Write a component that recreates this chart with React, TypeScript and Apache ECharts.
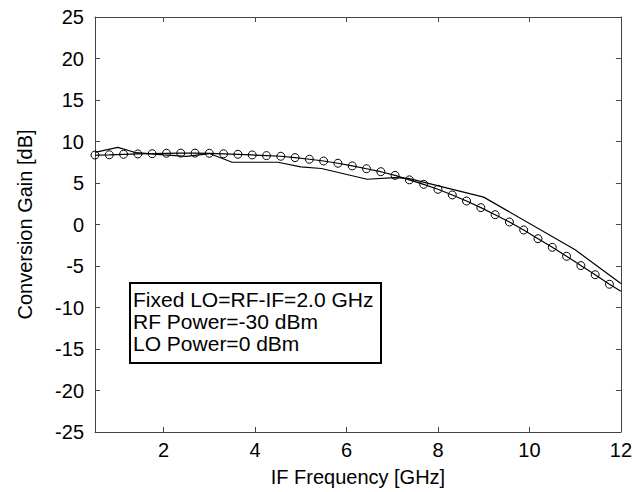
import React, { useEffect, useRef } from "react";
import * as echarts from "echarts";

const xTicks = [2, 4, 6, 8, 10, 12];
const yMin = -25;
const yMax = 25;

const measuredX = [0.5, 1.0, 1.4, 2.0, 2.5, 3.0, 3.5, 4.5, 5.0, 5.45, 6.45, 7.05, 7.35, 9.0, 11.0, 12.0];
const measuredY = [8.7, 9.3, 8.65, 8.4, 8.2, 8.55, 7.5, 7.5, 6.95, 6.75, 5.45, 5.65, 5.55, 3.3, -3.05, -7.1];

const simX = [
  0.5, 0.8125, 1.125, 1.4375, 1.75, 2.0625, 2.375, 2.6875, 3.0, 3.3125, 3.625, 3.9375,
  4.25, 4.5625, 4.875, 5.1875, 5.5, 5.8125, 6.125, 6.4375, 6.75, 7.0625, 7.375, 7.6875,
  8.0, 8.3125, 8.625, 8.9375, 9.25, 9.5625, 9.875, 10.1875, 10.5, 10.8125, 11.125, 11.4375,
  11.75, 12.0,
];
const simY = [
  8.37, 8.4, 8.46, 8.5, 8.53, 8.58, 8.6, 8.6, 8.58, 8.52, 8.46, 8.38, 8.3, 8.22, 8.06,
  7.86, 7.65, 7.38, 7.06, 6.72, 6.36, 5.92, 5.38, 4.84, 4.24, 3.56, 2.83, 2.03, 1.18,
  0.3, -0.66, -1.71, -2.75, -3.83, -4.95, -6.05, -7.2, -8.05,
];

const noteLines = ["Fixed LO=RF-IF=2.0 GHz", "RF Power=-30 dBm", "LO Power=0 dBm"];

const FONT = '"Liberation Sans", Arial, Helvetica, sans-serif';

export default function App() {
  const ref = useRef<HTMLDivElement>(null);
  useEffect(() => {
    document.body.style.margin = "0";
    if (!ref.current) return;
    const chart = echarts.init(ref.current, null, { renderer: "svg" });
    const axisColor = "#444";
    const measured = measuredX.map((x, i) => [x, measuredY[i]]);
    const sim = simX.map((x, i) =>
      i === simX.length - 1 ? { value: [x, simY[i]], symbol: "none" } : { value: [x, simY[i]] }
    );
    const lineBase = { lineStyle: { color: axisColor, width: 1 } };
    chart.setOption({
      animation: false,
      backgroundColor: "#fff",
      textStyle: { fontFamily: FONT },
      grid: { left: 95, right: 13, top: 17, bottom: 60 },
      xAxis: [
        {
          type: "value",
          position: "bottom",
          min: 0.5,
          max: 12,
          axisLine: { show: true, onZero: false, ...lineBase },
          axisTick: { show: true, inside: true, length: 5, customValues: xTicks, lineStyle: { color: axisColor } },
          axisLabel: { show: true, customValues: xTicks, fontSize: 20, color: "#000", margin: 8, fontFamily: FONT },
          splitLine: { show: false },
          name: "IF Frequency [GHz]",
          nameLocation: "middle",
          nameGap: 35,
          nameTextStyle: { fontSize: 20, color: "#000", fontFamily: FONT },
        },
        {
          type: "value",
          position: "top",
          min: 0.5,
          max: 12,
          axisLine: { show: true, onZero: false, ...lineBase },
          axisTick: { show: true, inside: true, length: 5, customValues: xTicks, lineStyle: { color: axisColor } },
          axisLabel: { show: false },
          splitLine: { show: false },
        },
      ],
      yAxis: [
        {
          type: "value",
          position: "left",
          min: yMin,
          max: yMax,
          interval: 5,
          axisLine: { show: true, onZero: false, ...lineBase },
          axisTick: { show: true, inside: true, length: 5, lineStyle: { color: axisColor } },
          axisLabel: { show: true, fontSize: 20, color: "#000", margin: 11, fontFamily: FONT },
          splitLine: { show: false },
          name: "Conversion Gain [dB]",
          nameLocation: "middle",
          nameGap: 60,
          nameTextStyle: { fontSize: 20, color: "#000", fontFamily: FONT },
        },
        {
          type: "value",
          position: "right",
          min: yMin,
          max: yMax,
          interval: 5,
          axisLine: { show: true, onZero: false, ...lineBase },
          axisTick: { show: true, inside: true, length: 5, lineStyle: { color: axisColor } },
          axisLabel: { show: false },
          splitLine: { show: false },
        },
      ],
      series: [
        {
          name: "Measured",
          type: "line",
          xAxisIndex: 0,
          yAxisIndex: 0,
          data: measured,
          symbol: "none",
          lineStyle: { color: "#000", width: 1.2 },
          z: 3,
        },
        {
          name: "Simulated",
          type: "line",
          xAxisIndex: 0,
          yAxisIndex: 0,
          data: sim,
          symbol: "circle",
          symbolSize: 8,
          showAllSymbol: true,
          itemStyle: { color: "rgba(0,0,0,0)", borderColor: "#000", borderWidth: 1 },
          lineStyle: { color: "#000", width: 1.2 },
          z: 4,
        },
      ],
      graphic: [
        {
          type: "group",
          z: 100,
          children: [
            {
              type: "rect",
              shape: { x: 130, y: 283, width: 251, height: 80 },
              style: { fill: "#fff", stroke: "#000", lineWidth: 2 },
            },
            ...noteLines.map((t, i) => ({
              type: "text",
              x: 133,
              y: 299 + i * 22,
              style: {
                text: t,
                fill: "#000",
                font: `21px ${FONT}`,
                verticalAlign: "middle",
                align: "left",
              },
            })),
          ],
        },
      ],
    });
    return () => chart.dispose();
  }, []);
  return <div ref={ref} style={{ width: 635, height: 492 }} />;
}
